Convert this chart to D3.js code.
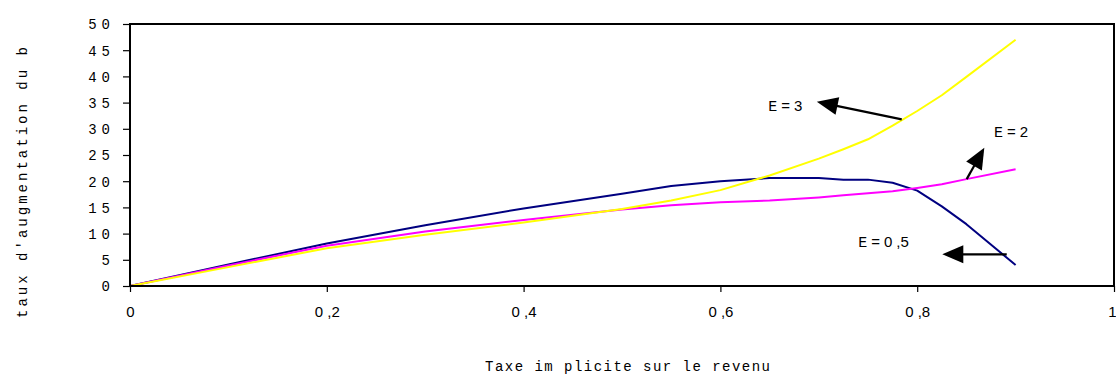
<!DOCTYPE html>
<html>
<head>
<meta charset="utf-8">
<script src="https://cdn.jsdelivr.net/npm/d3@7"></script>
<style>
  html, body { margin: 0; padding: 0; background: #fff; }
  svg { display: block; }
</style>
</head>
<body>
<svg id="chart" width="1116" height="376"></svg>
<script>
// Implicit income tax rate (x) and the three elasticity scenarios
const taxRates = [0, 0.1, 0.2, 0.3, 0.4, 0.5, 0.55, 0.6, 0.65, 0.7, 0.725, 0.75, 0.775, 0.8, 0.825, 0.85, 0.9];
const eHalf  = [0, 4.1, 8.1, 11.6, 14.8, 17.6, 19.1, 20.0, 20.6, 20.6, 20.3, 20.3, 19.7, 18.2, 15.2, 11.8, 4.0];
const eTwo   = [0, 3.9, 7.7, 10.4, 12.6, 14.6, 15.4, 16.0, 16.3, 16.9, 17.3, 17.7, 18.1, 18.7, 19.4, 20.4, 22.3];
const eThree = [0, 3.6, 7.2, 9.8, 12.1, 14.7, 16.3, 18.3, 21.1, 24.3, 26.1, 28.0, 30.6, 33.4, 36.4, 39.9, 47.0];

const seriesColors = ["#000080", "#FF00FF", "#FFFF00"];

const xTicks = [0, 0.2, 0.4, 0.6, 0.8, 1];
const yTicks = [0, 5, 10, 15, 20, 25, 30, 35, 40, 45, 50];

const xTitle = "Taxe im plicite sur le revenu";
const yTitle = "taux d'augmentation du b";

// Callouts, in data units: label parts, label anchor, arrow tail and arrow tip
const calloutParts = [["E", "=", "3"], ["E", "=", "2"], ["E", "=", "0", ",5"]];
const calloutLabelAt = [[0.6487, 33.4], [0.878, 28.5], [0.740, 7.5]];
const calloutTail = [[0.7843, 31.8], [0.8503, 20.4], [0.891, 6.05]];
const calloutTip  = [[0.698, 35.17], [0.8682, 26.4], [0.8255, 6.05]];

const svg = d3.select("#chart");
const plotLeft = 130, plotRight = 1114, plotTop = 24, plotBottom = 286;

const x = d3.scaleLinear().domain([0, 1]).range([plotLeft, plotRight]);
const y = d3.scaleLinear().domain([0, 50]).range([plotBottom, plotTop]);

const commaFmt = v => v === 0 ? "0" : v === 1 ? "1" : d3.format(".1f")(v).replace(".", " ,");

// x axis ticks and labels
const xAxis = svg.append("g")
  .attr("transform", `translate(0,${plotBottom})`)
  .call(d3.axisBottom(x).tickValues(xTicks).tickSize(6).tickSizeOuter(0).tickFormat(commaFmt));
xAxis.select(".domain").remove();
xAxis.selectAll(".tick line").attr("stroke", "#000").attr("stroke-width", 1.2);
xAxis.selectAll(".tick text")
  .attr("y", 31).attr("dy", 0)
  .attr("fill", "#000")
  .style("font-family", "'Liberation Sans', Arial, sans-serif")
  .style("font-size", "15px");
// the last label sits against the right edge of the page
xAxis.selectAll(".tick text").filter(d => d === 1)
  .attr("text-anchor", "end").attr("x", 2);

// y axis ticks and labels
const yAxis = svg.append("g")
  .attr("transform", `translate(${plotLeft},0)`)
  .call(d3.axisLeft(y).tickValues(yTicks).tickSize(7).tickSizeOuter(0).tickFormat(d3.format("d")));
yAxis.select(".domain").remove();
yAxis.selectAll(".tick line").attr("stroke", "#000").attr("stroke-width", 1.2);
yAxis.selectAll(".tick text")
  .attr("x", -15).attr("dy", "0.35em")
  .attr("fill", "#000")
  .style("font-family", "'Liberation Mono', 'Courier New', monospace")
  .style("font-size", "14px")
  .style("letter-spacing", "5px");

// series lines
const line = d3.line().x((d, i) => x(taxRates[i])).y(d => y(d));
[eHalf, eTwo, eThree].forEach((vals, k) => {
  svg.append("path")
    .datum(vals)
    .attr("d", line)
    .attr("fill", "none")
    .attr("stroke", seriesColors[k])
    .attr("stroke-width", 2)
    .attr("stroke-linejoin", "round");
});

// plot frame
svg.append("rect")
  .attr("x", plotLeft).attr("y", plotTop)
  .attr("width", plotRight - plotLeft).attr("height", plotBottom - plotTop)
  .attr("fill", "none").attr("stroke", "#000").attr("stroke-width", 2);

// callout arrows
calloutTail.forEach((tail, i) => {
  const tx = x(tail[0]), ty = y(tail[1]);
  const px = x(calloutTip[i][0]), py = y(calloutTip[i][1]);
  const dx = px - tx, dy = py - ty, len = Math.hypot(dx, dy);
  const ux = dx / len, uy = dy / len;
  const headLen = 21, half = 9;
  const bx = px - ux * headLen, by = py - uy * headLen;
  svg.append("line")
    .attr("x1", tx).attr("y1", ty).attr("x2", bx + ux * 2).attr("y2", by + uy * 2)
    .attr("stroke", "#000").attr("stroke-width", 2.2);
  svg.append("path")
    .attr("d", `M${px},${py}L${bx - uy * half},${by + ux * half}L${bx + uy * half},${by - ux * half}Z`)
    .attr("fill", "#000");
});

// callout labels
calloutParts.forEach((parts, i) => {
  const t = svg.append("text")
    .attr("x", x(calloutLabelAt[i][0]))
    .attr("y", y(calloutLabelAt[i][1]))
    .attr("fill", "#000")
    .style("font-size", "15px");
  parts.forEach((p, j) => {
    t.append("tspan")
      .attr("dx", j === 0 ? 0 : 4)
      .style("font-family", j === 0 ? "'Liberation Mono', 'Courier New', monospace" : "'Liberation Sans', Arial, sans-serif")
      .text(p);
  });
});

// axis titles
svg.append("text")
  .attr("x", (plotLeft + plotRight) / 2 - 137)
  .attr("y", 371)
  .attr("textLength", 285)
  .attr("lengthAdjust", "spacing")
  .attr("fill", "#000")
  .style("font-family", "'Liberation Mono', 'Courier New', monospace")
  .style("font-size", "14px")
  .text(xTitle);

svg.append("text")
  .attr("transform", "translate(26.5,182) rotate(-90)")
  .attr("x", -136)
  .attr("y", 0)
  .attr("textLength", 271)
  .attr("lengthAdjust", "spacing")
  .attr("fill", "#000")
  .style("font-family", "'Liberation Mono', 'Courier New', monospace")
  .style("font-size", "14px")
  .text(yTitle);
</script>
</body>
</html>
